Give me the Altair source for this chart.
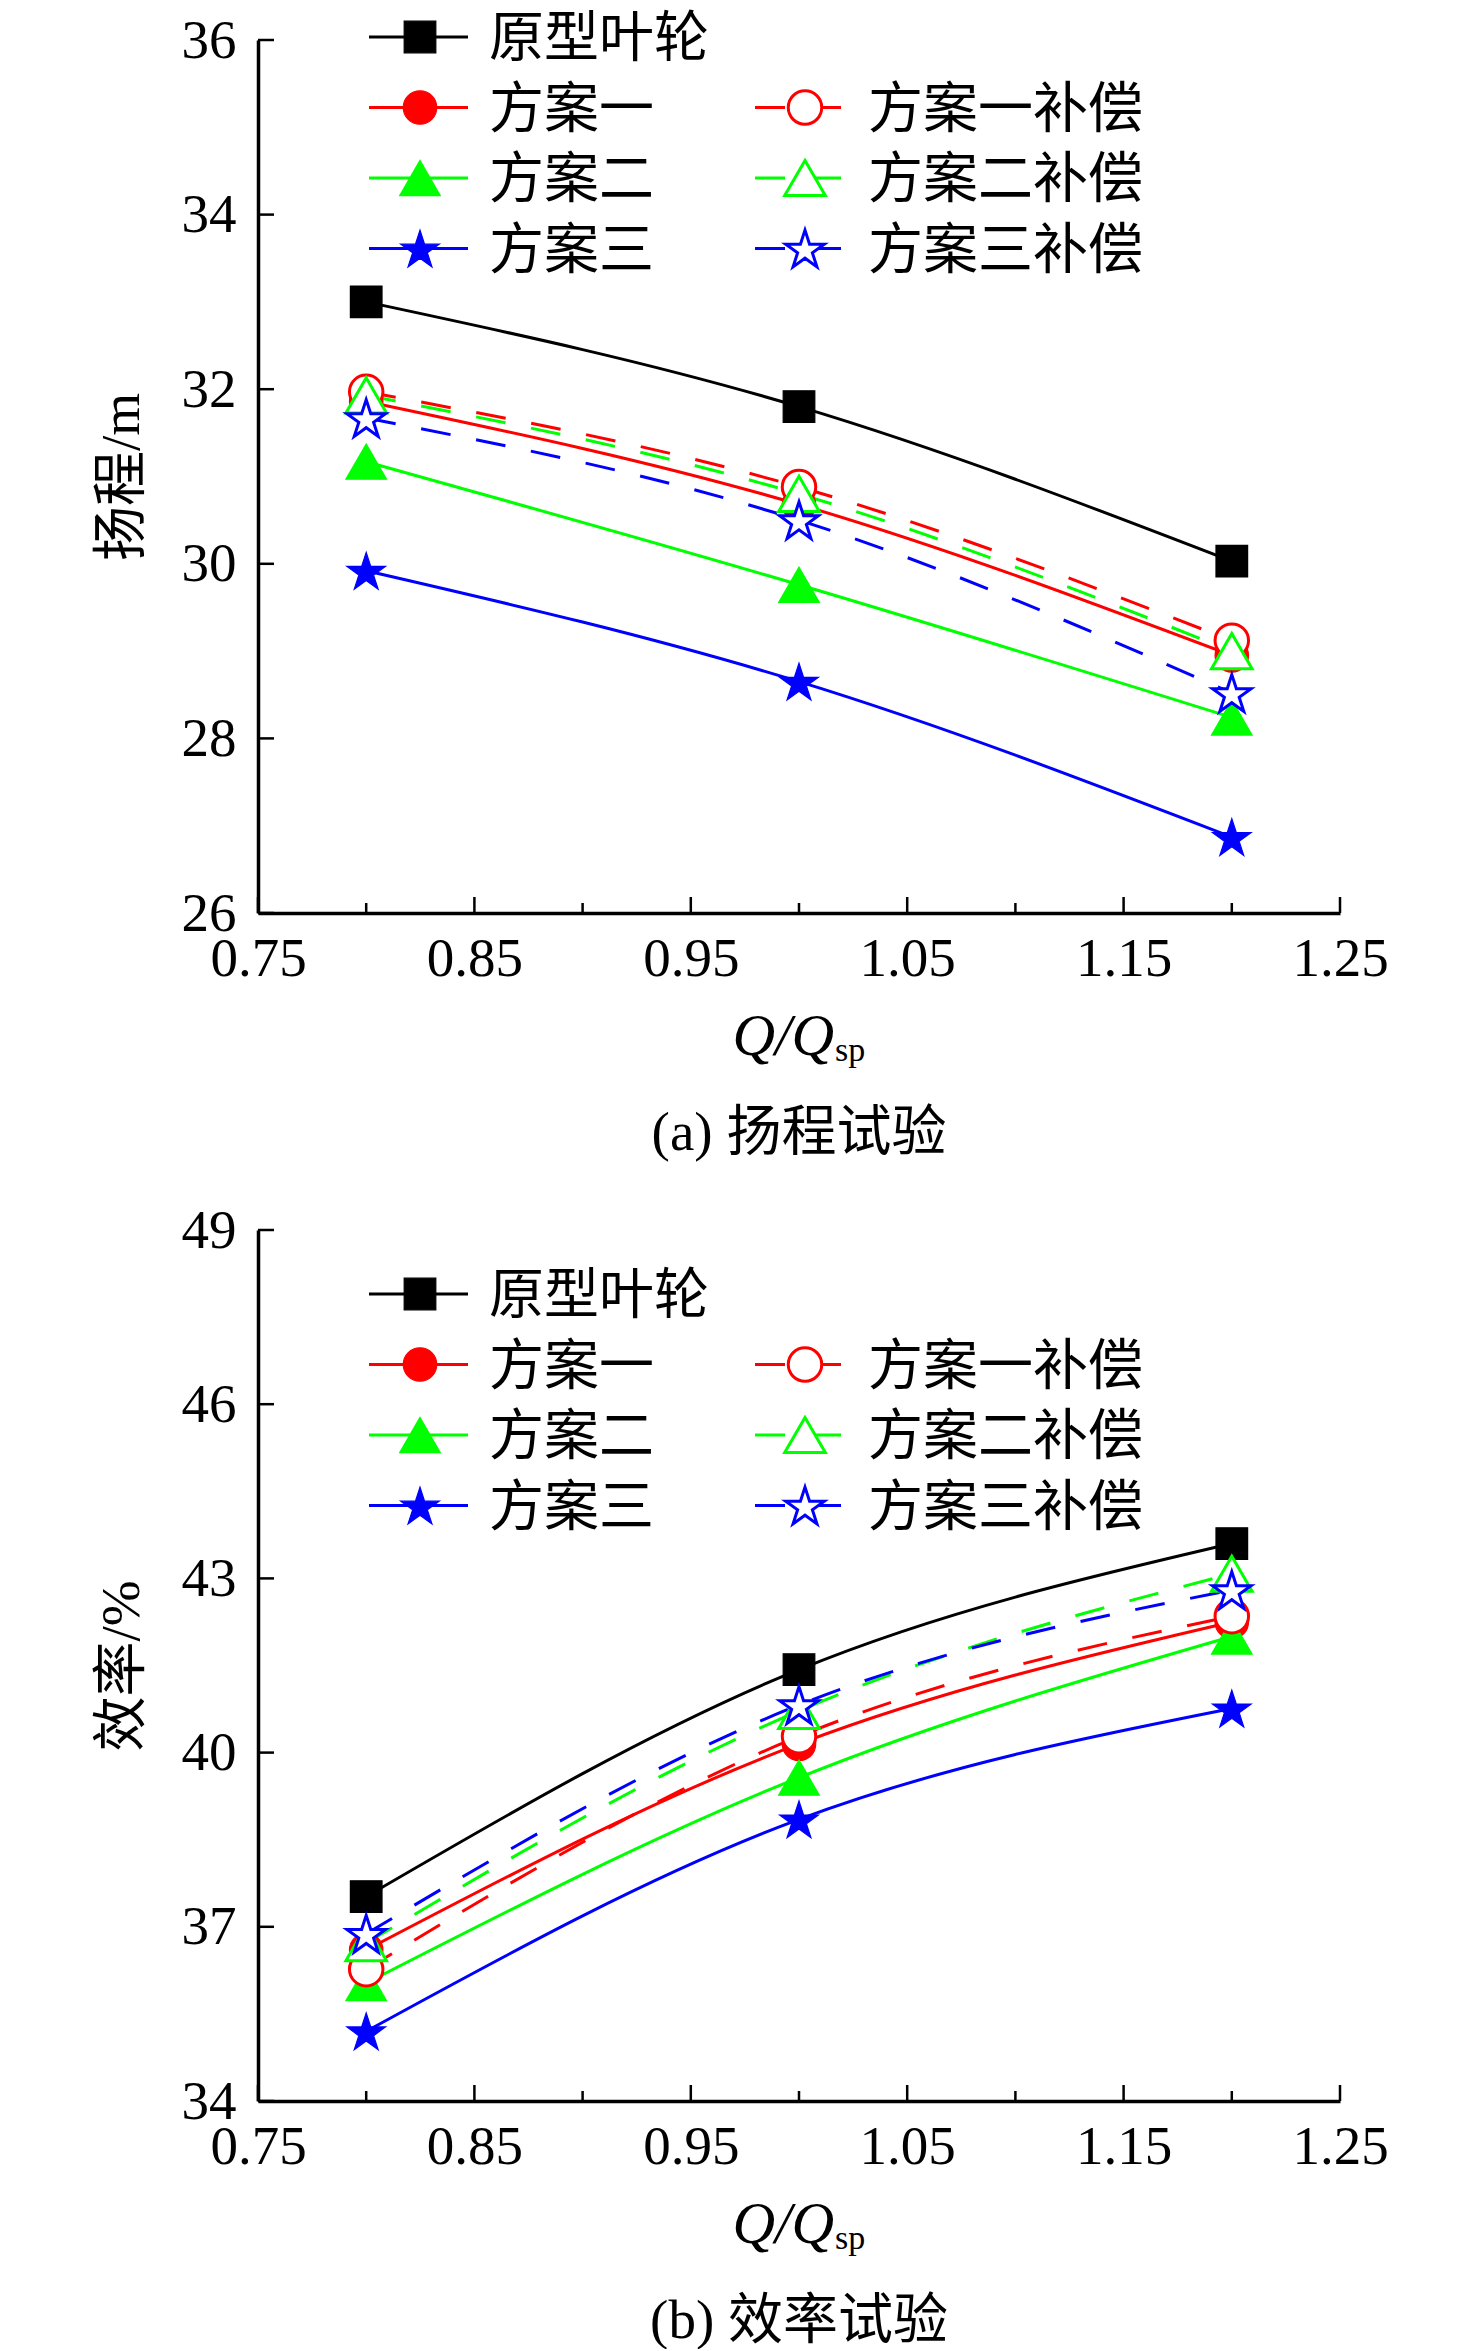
import altair as alt
import pandas as pd

# ---------------- data ----------------
Q = [0.8, 1.0, 1.2]
SERIES = ["原型叶轮", "方案一", "方案一补偿", "方案二", "方案二补偿", "方案三", "方案三补偿"]

head_proto = [33.0, 31.8, 30.03]
head_s1 = [31.86, 30.68, 28.95]
head_s1c = [31.97, 30.88, 29.12]
head_s2 = [31.17, 29.76, 28.24]
head_s2c = [31.93, 30.80, 29.00]
head_s3 = [29.92, 28.65, 26.87]
head_s3c = [31.67, 30.50, 28.52]

eff_proto = [37.52, 41.43, 43.60]
eff_s1 = [36.60, 40.15, 42.25]
eff_s1c = [36.27, 40.28, 42.35]
eff_s2 = [36.03, 39.57, 42.00]
eff_s2c = [36.72, 40.72, 43.08]
eff_s3 = [35.20, 38.85, 40.76]
eff_s3c = [36.88, 40.82, 42.80]

X_MAJOR = [0.75, 0.85, 0.95, 1.05, 1.15, 1.25]
X_MINOR = [0.80, 0.90, 1.00, 1.10, 1.20]
Y_TICKS_HEAD = [26, 28, 30, 32, 34, 36]
Y_TICKS_EFF = [34, 37, 40, 43, 46, 49]

HEAD = dict(zip(SERIES, [head_proto, head_s1, head_s1c, head_s2, head_s2c, head_s3, head_s3c]))
EFF = dict(zip(SERIES, [eff_proto, eff_s1, eff_s1c, eff_s2, eff_s2c, eff_s3, eff_s3c]))

# five-pointed star as a custom symbol path (unit box)
STAR = ("M0,-0.905 L0.2245,-0.214 L0.9511,-0.214 L0.3633,0.213 L0.5878,0.904 "
        "L0,0.477 L-0.5878,0.904 L-0.3633,0.213 L-0.9511,-0.214 L-0.2245,-0.214 Z")

STYLE = {
    "原型叶轮": dict(color="#000000", shape="square", filled=True, dash=None, size=1000),
    "方案一": dict(color="#FF0000", shape="circle", filled=True, dash=None, size=1120),
    "方案一补偿": dict(color="#FF0000", shape="circle", filled=False, dash=[30, 26], size=1120),
    "方案二": dict(color="#00FF00", shape="triangle-up", filled=True, dash=None, size=1650),
    "方案二补偿": dict(color="#00FF00", shape="triangle-up", filled=False, dash=[30, 26], size=1650),
    "方案三": dict(color="#0000FF", shape=STAR, filled=True, dash=None, size=1650),
    "方案三补偿": dict(color="#0000FF", shape=STAR, filled=False, dash=[30, 26], size=1650),
}
LEG_LAYOUT = [("原型叶轮", 0, 0), ("方案一", 0, 1), ("方案一补偿", 1, 1), ("方案二", 0, 2),
              ("方案二补偿", 1, 2), ("方案三", 0, 3), ("方案三补偿", 1, 3)]
COL_LINE0 = [111, 497]
COL_LINE1 = [210, 585]
COL_MARK = [162, 547]
COL_TEXT = [231, 610]

NUMFONT = "Liberation Serif"
CJKFONT = "Liberation Serif, Noto Sans CJK SC"
FS = 55
W = 1082


def point_mark(st):
    if st["filled"]:
        return dict(shape=st["shape"], size=st["size"], filled=True, fill=st["color"],
                    stroke=st["color"], strokeWidth=1.2, opacity=1)
    return dict(shape=st["shape"], size=st["size"], filled=True, fill="white",
                stroke=st["color"], strokeWidth=3, opacity=1)


def panel(vals, ydom, yticks, ytitle, caption, H, leg_top):
    xs = alt.Scale(domain=[0.75, 1.25], nice=False, zero=False)
    ys = alt.Scale(domain=ydom, nice=False, zero=False)
    ax_x = alt.Axis(values=X_MAJOR, format=".2f", title=None, ticks=False,
                    labelPadding=19, labelFont=NUMFONT, labelFontSize=FS, labelColor="black",
                    domainColor="black", domainWidth=3.5, grid=False, labelFlush=False)
    ax_y = alt.Axis(values=yticks, format="d", title=ytitle, ticks=False,
                    labelPadding=22, labelFont=NUMFONT, labelFontSize=FS, labelColor="black",
                    titleFont=CJKFONT, titleFontSize=FS, titleFontWeight="normal", titleColor="black",
                    titlePadding=31, domainColor="black", domainWidth=3.5, grid=False, labelFlush=False)

    def X(f):
        return alt.X(f, scale=xs, axis=ax_x)

    def Y(f):
        return alt.Y(f, scale=ys, axis=ax_y)

    layers = []
    # inward ticks
    layers.append(alt.Chart(pd.DataFrame({"t": X_MAJOR})).mark_rule(color="black", strokeWidth=2.5).encode(
        x=X("t:Q"), y=alt.value(H), y2=alt.value(H - 16)))
    layers.append(alt.Chart(pd.DataFrame({"t": X_MINOR})).mark_rule(color="black", strokeWidth=2.5).encode(
        x=X("t:Q"), y=alt.value(H), y2=alt.value(H - 10)))
    layers.append(alt.Chart(pd.DataFrame({"t": yticks})).mark_rule(color="black", strokeWidth=2.5).encode(
        y=Y("t:Q"), x=alt.value(0), x2=alt.value(16)))

    for name in SERIES:
        st = STYLE[name]
        df = pd.DataFrame({"q": Q, "v": vals[name]})
        kw = dict(color=st["color"], strokeWidth=3, interpolate="monotone")
        if st["dash"]:
            kw["strokeDash"] = st["dash"]
        layers.append(alt.Chart(df).mark_line(**kw).encode(x=X("q:Q"), y=Y("v:Q")))
    order = ["原型叶轮", "方案一", "方案二", "方案三", "方案一补偿", "方案二补偿", "方案三补偿"]
    for name in order:
        st = STYLE[name]
        df = pd.DataFrame({"q": Q, "v": vals[name]})
        layers.append(alt.Chart(df).mark_point(**point_mark(st)).encode(x=X("q:Q"), y=Y("v:Q")))

    # legend
    for name, col, row in LEG_LAYOUT:
        st = STYLE[name]
        yy = leg_top + row * 70.5
        lab = pd.DataFrame({"name": [name]})
        kw = dict(color=st["color"], strokeWidth=3)
        if st["dash"]:
            kw["strokeDash"] = st["dash"]
        layers.append(alt.Chart(lab).mark_rule(**kw).encode(
            x=alt.value(COL_LINE0[col]), x2=alt.value(COL_LINE1[col]), y=alt.value(yy)))
        layers.append(alt.Chart(lab).mark_point(**point_mark(st)).encode(
            x=alt.value(COL_MARK[col]), y=alt.value(yy)))
        layers.append(alt.Chart(lab).mark_text(
            font=CJKFONT, fontSize=FS, align="left", baseline="middle", color="black").encode(
            text="name:N", x=alt.value(COL_TEXT[col]), y=alt.value(yy + 2)))

    # x title  Q/Q_sp
    layers.append(alt.Chart(pd.DataFrame({"t": ["Q/Q"]})).mark_text(
        font=NUMFONT, fontSize=FS + 4, fontStyle="italic", align="right", baseline="alphabetic",
        color="black").encode(text="t:N", x=alt.value(576), y=alt.value(H + 142)))
    layers.append(alt.Chart(pd.DataFrame({"t": ["sp"]})).mark_text(
        font=NUMFONT, fontSize=34, align="left", baseline="alphabetic",
        color="black").encode(text="t:N", x=alt.value(577), y=alt.value(H + 148)))
    # caption
    layers.append(alt.Chart(pd.DataFrame({"t": [caption]})).mark_text(
        font=CJKFONT, fontSize=FS, align="center", baseline="middle",
        color="black").encode(text="t:N", x=alt.value(W / 2), y=alt.value(H + 220)))

    return alt.layer(*layers).properties(width=W, height=H)


top = panel(HEAD, [26, 36], Y_TICKS_HEAD, "扬程/m", "(a) 扬程试验", 873, -3)
bottom = panel(EFF, [34, 49], Y_TICKS_EFF, "效率/%", "(b) 效率试验", 871, 64)

chart = alt.vconcat(top, bottom, spacing=42).properties(
    padding={"left": 86, "top": 4, "right": 5, "bottom": 0},
    background="white",
).configure_view(stroke=None)

chart.save("out.html", embed_options={"renderer": "svg", "actions": False})
